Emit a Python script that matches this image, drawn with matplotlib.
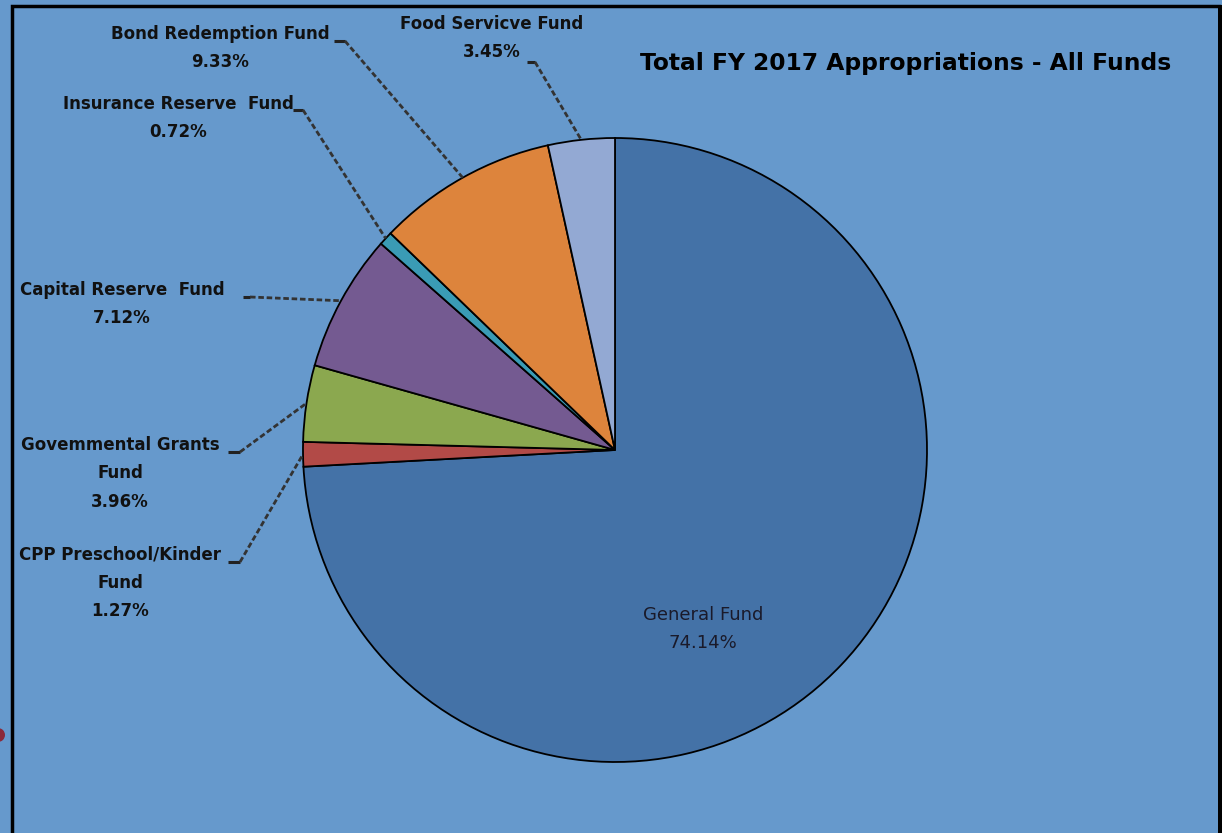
import numpy as np
import matplotlib.pyplot as plt
from matplotlib.patches import Circle

# fund shares of the FY 2017 appropriations (percent), clockwise from 12 o'clock
funds = ["General Fund", "CPP Preschool/Kinder Fund", "Governmental Grants Fund",
         "Capital Reserve Fund", "Insurance Reserve Fund", "Bond Redemption Fund",
         "Food Servicve Fund"]
shares = [74.14, 1.27, 3.96, 7.12, 0.72, 9.33, 3.45]
label_text = ["General Fund", "CPP Preschool/Kinder\nFund", "Govemmental Grants\nFund",
              "Capital Reserve  Fund", "Insurance Reserve  Fund", "Bond Redemption Fund",
              "Food Servicve Fund"]
colors = ["#4472a7", "#b24a47", "#8ba84f", "#745a91", "#3a9bb5", "#dd843c", "#93a9d3"]

W, H = 1222, 833
bg = "#6699cc"

fig = plt.figure(figsize=(W / 100, H / 100), dpi=100)
fig.patch.set_facecolor(bg)
ax = fig.add_axes([0, 0, 1, 1])

def Y(y):
    # screen-style y (down) to axes y (up)
    return H - y

cx, cy, R = 615, Y(450), 312
wedges, _ = ax.pie(shares, colors=colors, startangle=90, counterclock=False,
                   center=(cx, cy), radius=R, frame=True,
                   wedgeprops=dict(edgecolor="black", linewidth=1.3))
ax.set_xlim(0, W)
ax.set_ylim(0, H)
ax.set_aspect("equal")
ax.axis("off")

# label block centre, elbow start/end for each small slice
layout = {
    1: dict(xy=(120, 583), elbow=((228, 562), (240, 562))),
    2: dict(xy=(120, 473), elbow=((228, 452), (240, 452))),
    3: dict(xy=(122, 304), elbow=((243, 297), (250, 297))),
    4: dict(xy=(178, 118), elbow=((293, 110), (303, 110))),
    5: dict(xy=(220, 48), elbow=((334, 41), (345, 41))),
    6: dict(xy=(492, 38), elbow=((527, 62), (535, 62))),
}

for i, lay in layout.items():
    w = wedges[i]
    mid = np.deg2rad((w.theta1 + w.theta2) / 2)
    ax_, ay_ = cx + R * np.cos(mid), cy + R * np.sin(mid)
    (x0, y0), (x1, y1) = lay["elbow"]
    ax.plot([x0, x1], [Y(y0), Y(y1)], color="#222222", lw=2.2, solid_capstyle="butt")
    ax.plot([x1, ax_], [Y(y1), ay_], color="#333333", lw=2.0, ls=(0, (2, 1)))
    tx, ty = lay["xy"]
    ax.text(tx, Y(ty), "%s\n%.2f%%" % (label_text[i], shares[i]), ha="center", va="center",
            fontsize=12, fontweight="bold", color="#111111", linespacing=1.75)

# label inside the big slice
ax.text(703, Y(629), "%s\n%.2f%%" % (label_text[0], shares[0]), ha="center", va="center",
        fontsize=13, color="#1a1a2a", linespacing=1.65)

ax.text(906, Y(63), "Total FY 2017 Appropriations - All Funds", ha="center", va="center",
        fontsize=16.8, fontweight="bold", color="black")

# chart frame
ax.plot([12, 12, 1219], [0, Y(6), Y(6)], color="black", lw=2.5, solid_joinstyle="miter")
ax.add_patch(plt.Rectangle((1218, 0), 4, Y(5), color="black", lw=0))
ax.add_patch(Circle((-2, Y(735)), 7, color="#8b2a3a", lw=0))

fig.savefig("out.png", dpi=100, facecolor=bg)
